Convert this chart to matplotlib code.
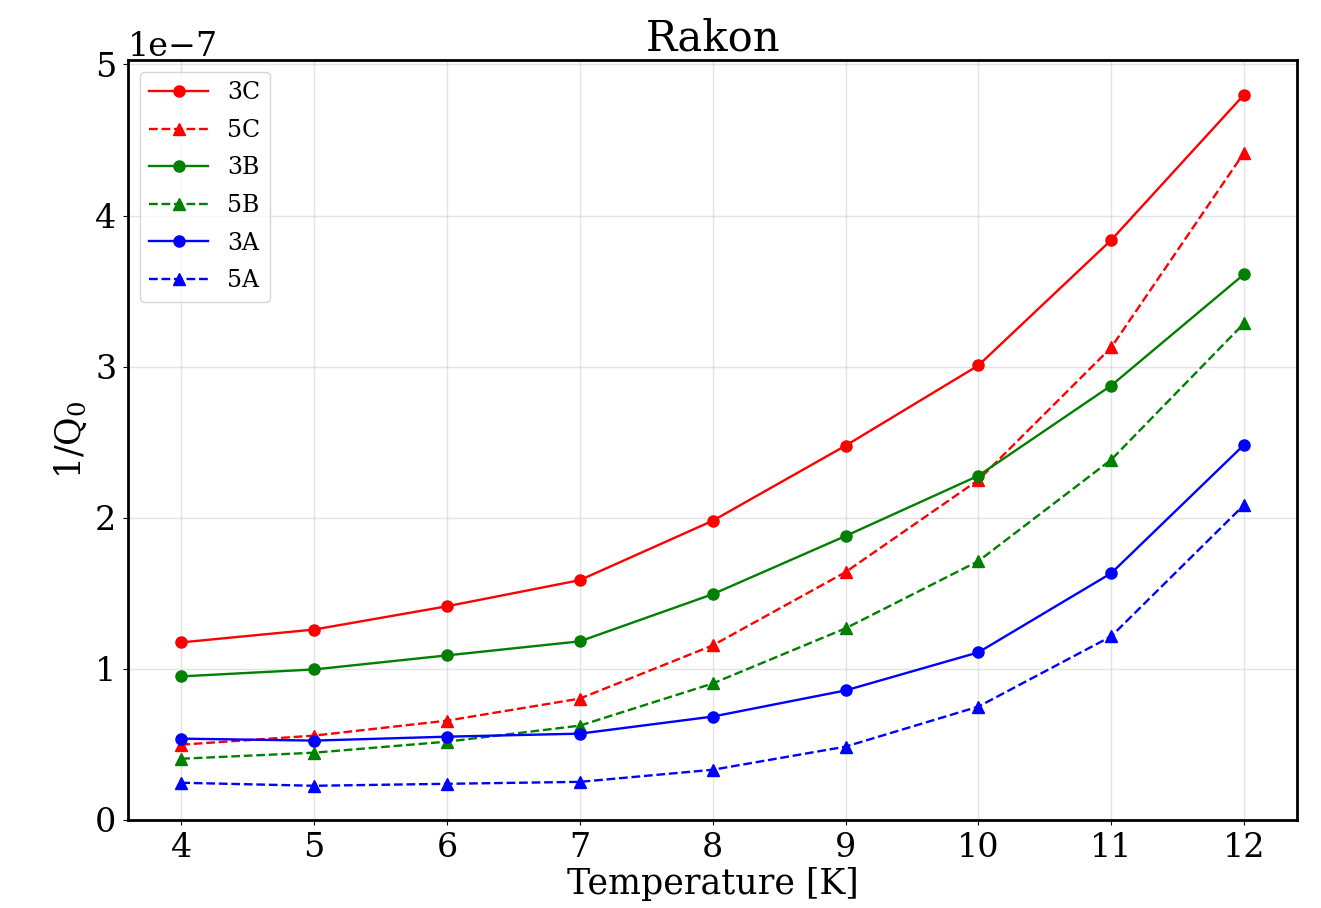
import numpy as np
import matplotlib
matplotlib.use("Agg")
import matplotlib.pyplot as plt

plt.rcParams['font.family'] = 'DejaVu Serif'
plt.rcParams['mathtext.fontset'] = 'dejavuserif'

temps = [4, 5, 6, 7, 8, 9, 10, 11, 12]

q_3c = [1.175, 1.26, 1.414, 1.587, 1.98, 2.477, 3.008, 3.838, 4.80]
q_5c = [0.498, 0.558, 0.657, 0.803, 1.155, 1.64, 2.25, 3.127, 4.416]
q_3b = [0.95, 0.996, 1.089, 1.182, 1.494, 1.879, 2.278, 2.875, 3.612]
q_5b = [0.405, 0.445, 0.518, 0.624, 0.903, 1.268, 1.713, 2.384, 3.287]
q_3a = [0.538, 0.525, 0.551, 0.571, 0.684, 0.857, 1.109, 1.633, 2.483]
q_5a = [0.246, 0.226, 0.239, 0.252, 0.332, 0.485, 0.75, 1.215, 2.085]

series = [
    ('3C', q_3c, 'red', '-', 'o'),
    ('5C', q_5c, 'red', '--', '^'),
    ('3B', q_3b, 'green', '-', 'o'),
    ('5B', q_5b, 'green', '--', '^'),
    ('3A', q_3a, 'blue', '-', 'o'),
    ('5A', q_5a, 'blue', '--', '^'),
]

fig = plt.figure(figsize=(13.21, 9.08), dpi=100)
ax = fig.add_axes([0.097, 0.097, 0.885, 0.837])

for name, vals, col, ls, mk in series:
    ax.plot(temps, np.array(vals) * 1e-7, color=col, linestyle=ls, marker=mk,
            markersize=8, linewidth=1.7, label=name)

ax.set_xlim(3.6, 12.4)
ax.set_ylim(0, 5.03e-7)
ax.set_xticks(temps)
ax.set_yticks(np.arange(0, 6) * 1e-7)
ax.grid(True, color='lightgray', alpha=0.6, linewidth=1)
ax.set_axisbelow(True)

ax.tick_params(labelsize=24, pad=5)
ax.yaxis.get_offset_text().set_fontsize(24)
for s in ax.spines.values():
    s.set_linewidth(2)

ax.set_title('Rakon', fontsize=30, pad=2)
ax.set_xlabel('Temperature [K]', fontsize=25, labelpad=2)
ax.set_ylabel('1/Q$_0$', fontsize=25)
ax.legend(loc='upper left', fontsize=17, handlelength=2.5, labelspacing=0.62)

fig.savefig('out.png', dpi=100)
